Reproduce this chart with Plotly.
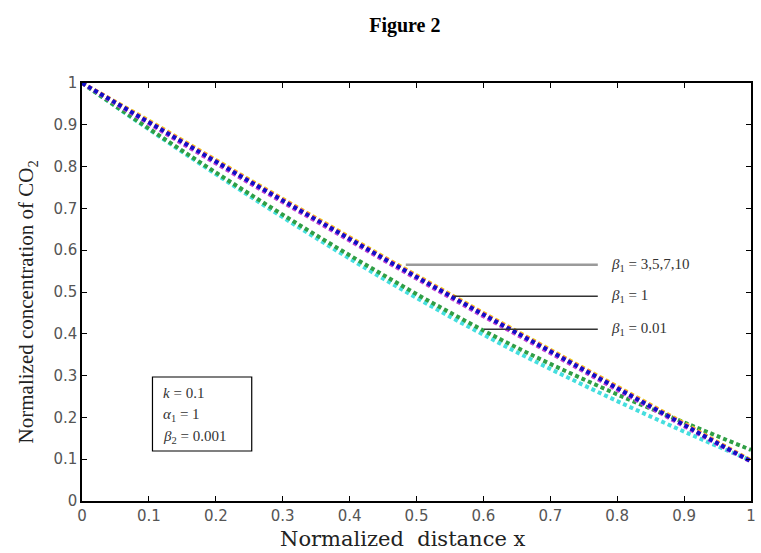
import plotly.graph_objects as go

# ---- data ----
x_vals = [0.00, 0.05, 0.10, 0.15, 0.20, 0.25, 0.30, 0.35, 0.40, 0.45, 0.50,
          0.55, 0.60, 0.65, 0.70, 0.75, 0.80, 0.85, 0.90, 0.95, 1.00]

c_beta1_001 = [1.000, 0.945, 0.891, 0.838, 0.786, 0.735, 0.685, 0.636, 0.588, 0.541, 0.495,
               0.451, 0.408, 0.367, 0.328, 0.291, 0.255, 0.221, 0.188, 0.155, 0.122]
c_beta1_1 = [1.000, 0.944, 0.889, 0.835, 0.782, 0.730, 0.679, 0.629, 0.580, 0.532, 0.486,
             0.441, 0.398, 0.356, 0.316, 0.277, 0.239, 0.202, 0.166, 0.131, 0.097]
c_beta1_3 = [1.000, 0.951, 0.903, 0.855, 0.808, 0.761, 0.715, 0.669, 0.623, 0.577, 0.532,
             0.487, 0.442, 0.398, 0.354, 0.310, 0.266, 0.223, 0.179, 0.136, 0.094]
c_beta1_5 = [1.000, 0.954, 0.908, 0.861, 0.814, 0.767, 0.721, 0.675, 0.629, 0.583, 0.538,
             0.493, 0.448, 0.404, 0.360, 0.316, 0.272, 0.228, 0.184, 0.140, 0.096]
c_beta1_7 = [1.000, 0.955, 0.910, 0.863, 0.816, 0.769, 0.723, 0.677, 0.631, 0.585, 0.540,
             0.495, 0.450, 0.406, 0.362, 0.318, 0.274, 0.230, 0.186, 0.141, 0.097]
c_beta1_10 = [1.000, 0.953, 0.906, 0.859, 0.812, 0.765, 0.719, 0.673, 0.627, 0.581, 0.536,
              0.491, 0.446, 0.402, 0.358, 0.314, 0.270, 0.226, 0.182, 0.138, 0.095]

series = [
    ("β1=1", c_beta1_1, "#45dede"),
    ("β1=0.01", c_beta1_001, "#2f9f45"),
    ("β1=7", c_beta1_7, "#e6dc10"),
    ("β1=5", c_beta1_5, "#ff6a6a"),
    ("β1=3", c_beta1_3, "#c040d0"),
    ("β1=10", c_beta1_10, "#1010c8"),
]

fig = go.Figure()
for name, yv, col in series:
    fig.add_trace(go.Scatter(
        x=x_vals, y=yv, mode="lines", name=name,
        line=dict(color=col, width=4, dash="4px,3px", shape="spline"),
        showlegend=False,
    ))

serif = "Liberation Serif, Times New Roman, serif"
wide_serif = "DejaVu Serif, serif"
sans = "DejaVu Sans, Arial, sans-serif"

axis_common = dict(
    range=[0, 1], dtick=0.1, showgrid=False, zeroline=False,
    showline=True, linecolor="black", linewidth=1.5, mirror="ticks",
    ticks="inside", ticklen=5, tickcolor="black", tickwidth=1.2,
    tickfont=dict(family=sans, size=15, color="#555555"),
)

fig.update_layout(
    width=761, height=553,
    margin=dict(l=82, r=5, t=83, b=52),
    paper_bgcolor="white", plot_bgcolor="white",
    xaxis=dict(**axis_common),
    yaxis=dict(**axis_common),
    title=dict(text="<b>Figure 2</b>", x=0.532, xanchor="center", y=0.955, yanchor="middle",
               font=dict(family=serif, size=20, color="black")),
)

PL, PR, PT, PB = 82, 756, 83, 501


def px_x(px):
    return (px - PL) / (PR - PL)


def px_y(py):
    return (PB - py) / (PB - PT)


# axis titles
fig.add_annotation(x=px_x(405), y=px_y(539), xref="paper", yref="paper",
                   text="Normalized  distance x", showarrow=False,
                   xanchor="center", yanchor="middle",
                   font=dict(family=wide_serif, size=21, color="#222"))
fig.add_annotation(x=px_x(27), y=px_y(302), xref="paper", yref="paper",
                   text="Normalized concentration of CO<sub>2</sub>", showarrow=False,
                   textangle=-90, xanchor="center", yanchor="middle",
                   font=dict(family=serif, size=21, color="#222"))

# pointer lines
fig.add_shape(type="line", x0=0.484, x1=0.771, y0=0.565, y1=0.565,
              line=dict(color="#9a9a9a", width=2.5))
fig.add_shape(type="line", x0=0.556, x1=0.771, y0=0.490, y1=0.490,
              line=dict(color="#333333", width=1.5))
fig.add_shape(type="line", x0=0.601, x1=0.771, y0=0.411, y1=0.411,
              line=dict(color="#333333", width=1.5))

labels = [
    (0.565, "<i>β</i><sub>1</sub> = 3,5,7,10"),
    (0.490, "<i>β</i><sub>1</sub> = 1"),
    (0.411, "<i>β</i><sub>1</sub> = 0.01"),
]
for yy, txt in labels:
    fig.add_annotation(x=0.788, y=yy, xref="x", yref="y", text=txt, showarrow=False,
                       xanchor="left", yanchor="middle",
                       font=dict(family=serif, size=15, color="#333"))

# parameter box
fig.add_shape(type="rect", xref="paper", yref="paper",
              x0=px_x(153), x1=px_x(253), y0=px_y(451), y1=px_y(377),
              line=dict(color="black", width=1.2), fillcolor="white", layer="above")
box_lines = [
    (393, "<i>k</i> = 0.1"),
    (415, "<i>α</i><sub>1</sub> = 1"),
    (437, "<i>β</i><sub>2</sub> = 0.001"),
]
for py, txt in box_lines:
    fig.add_annotation(x=px_x(162), y=px_y(py), xref="paper", yref="paper",
                       text=txt, showarrow=False, xanchor="left", yanchor="middle",
                       font=dict(family=serif, size=15, color="#333"))

fig.write_html("out.html")
